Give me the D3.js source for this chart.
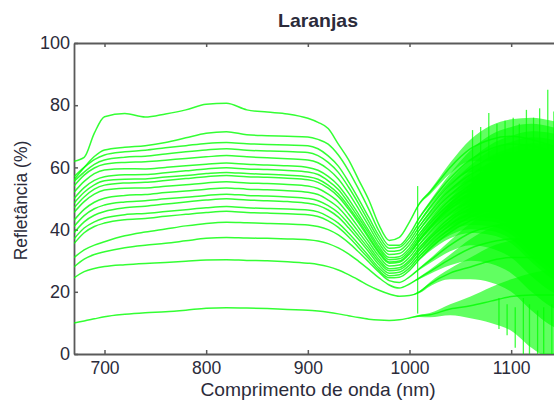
<!DOCTYPE html>
<html>
<head>
<meta charset="utf-8">
<script src="https://cdn.jsdelivr.net/npm/d3@7/dist/d3.min.js"></script>
<style>
  html, body { margin: 0; padding: 0; background: #fff; }
  svg { display: block; }
  text { font-family: "Liberation Sans", Arial, sans-serif; fill: #2b2b3a; }
</style>
</head>
<body>
<div id="chart"></div>
<script>
// ---------- data ----------
const title = "Laranjas";
const xLabel = "Comprimento de onda (nm)";
const yLabel = "Refletância (%)";
const xTicks = [700, 800, 900, 1000, 1100];
const yTicks = [0, 20, 40, 60, 80, 100];

const wavelengths = [670,680,690,700,720,740,760,780,800,820,840,860,880,900,910,920,930,940,950,960,970,980,990,1000,1010,1020,1040,1060,1080,1100,1120,1140,1150];

const line01 = [62,63.2,71,76.3,77.3,76.2,77.2,78.5,80.3,80.6,78.5,77.8,77.2,75.8,74.5,72.5,67.5,62.5,56,49.5,41.5,36.5,37.5,42.5,48.5,52,60,66,69,70,69,67,66];
const line02 = [56,60,63.5,65.6,66.5,67,68,69.5,71,71.5,70.5,70.2,70,69.8,69,67.5,64,59,53,46.5,39.5,35,35,38.5,44,48.5,56.5,62.5,66,67.5,67,65,64];
const line03 = [57,60,62.5,64,65,65.5,66.3,67,67.7,68,67.6,67.4,67.2,67,66,63.7,60.4,55.4,49.8,43.9,38,34,34.3,37.4,42.5,47,54.4,59.5,62.9,64.6,64.6,63,62];
const line04 = [55.5,58.5,61,62.4,63.3,63.6,64.3,65,65.6,66,65.5,65.3,65.1,64.8,63.8,61.6,58.4,53.7,48.3,42.5,36.8,33,33.3,36.3,41.2,45.5,52.8,57.7,61,62.7,62.7,61,60];
const line05 = [54,57.5,59.8,61,61.6,61.8,62.3,62.9,63.4,63.8,63.4,63.1,62.8,62.4,61.5,59.4,56.3,51.8,46.6,41.1,35.6,32,32.3,35.2,40,44.2,51.2,56,59.2,60.8,60.8,59.2,58.2];
const line06 = [52,55.5,58,59.2,59.6,59.5,60,60.5,61,61.4,61,60.8,60.5,60,59.1,57.1,54.2,49.9,44.9,39.7,34.5,31,31.3,34.1,38.8,42.8,49.6,54.3,57.4,58.9,58.9,57.4,56.4];
const line07 = [50,53.5,55.8,57,57.6,57.7,58.3,58.9,59.5,59.9,59.5,59.3,59,58.5,57.7,55.7,52.9,48.6,43.8,38.8,33.7,30.3,30.6,33.3,37.9,41.8,48.5,53,56.1,57.6,57.6,56.1,55.1];
const line08 = [48.5,52,54.4,55.7,56.2,56.3,56.9,57.4,58,58.4,58,57.8,57.5,57,56.2,54.3,51.5,47.4,42.8,37.8,32.9,29.6,29.9,32.6,37,40.8,47.4,51.8,54.8,56.2,56.2,54.8,53.9];
const line09 = [47,50.5,53,54.3,55,55.2,55.8,56.4,57,57.4,57,56.8,56.5,56,55.2,53.3,50.6,46.6,42.1,37.2,32.4,29.2,29.5,32.1,36.5,40.3,46.7,51.1,54,55.5,55.5,54,53.1];
const line10 = [45.5,49,51.4,52.7,53.3,53.4,53.9,54.4,55,55.4,55,54.8,54.5,54,53.2,51.4,48.9,45,40.6,36,31.4,28.3,28.6,31.1,35.4,39.1,45.3,49.5,52.4,53.8,53.8,52.4,51.5];
const line11 = [43,46.5,48.8,50.1,51,51.3,51.9,52.4,53,53.4,53,52.8,52.5,52,51.3,49.5,47.1,43.4,39.2,34.8,30.4,27.4,27.7,30.1,34.3,37.8,43.8,48,50.7,52.1,52.1,50.7,49.9];
const line12 = [41,44.5,46.7,47.9,48.9,49.3,49.9,50.4,51,51.4,51,50.8,50.5,50,49.3,47.7,45.4,41.9,37.9,33.8,29.6,26.8,27.1,29.5,33.5,37,42.9,46.9,49.6,50.9,50.9,49.6,48.8];
const line13 = [39,42.5,44.6,45.8,47,47.5,48.2,48.9,49.5,49.9,49.5,49.3,49,48.5,47.8,46.3,44,40.6,36.8,32.8,28.7,26,26.3,28.6,32.5,35.9,41.6,45.5,48.1,49.4,49.4,48.1,47.3];
const line14 = [37,40.5,42.5,43.7,44.8,45.2,45.8,46.4,47,47.4,47,46.8,46.6,46.3,45.7,44.2,42.1,38.9,35.3,31.5,27.7,25.2,25.5,27.7,31.5,34.8,40.3,44.1,46.6,47.9,47.9,46.6,45.9];
const line15 = [35.5,39,41,42.1,43.2,43.6,44.3,44.9,45.5,45.9,45.5,45.3,45.1,44.8,44.2,42.8,40.7,37.7,34.2,30.6,26.9,24.5,24.7,26.9,30.6,33.8,39.2,42.9,45.3,46.6,46.6,45.3,44.6];
const line16 = [31,33.5,35,36.1,38,39.2,40.2,41.2,42,42.4,42.2,42,41.8,41.5,41,40,38.3,35.8,32.8,29.6,26.3,23.6,23,24.8,27.5,30,35,39,41,42,42,41,40.5];
const line17 = [28,30.5,32,32.9,34.2,35,35.6,36.4,37.2,37.5,37.3,37.2,37,36.7,36.3,35.5,34.1,32.2,29.8,27.2,24.5,22.2,21.2,22.5,24.5,26.5,30.5,34,36,37,37,36,35.5];
const line18 = [24.5,26.5,27.5,28.1,28.7,29.1,29.4,29.8,30.2,30.3,30.1,30,29.7,29.2,28.8,28.1,27,25.5,23.8,22,20.5,19.3,18.6,18.8,20,22.5,26,28,30,31,31,30,29.5];
const line19 = [10,10.6,11.3,12,12.8,13.3,13.6,14.1,14.7,14.9,14.8,14.6,14.3,14.1,13.8,13.4,12.9,12.3,11.7,11.2,10.9,10.8,11,11.6,12.3,12.6,14.5,15.5,17,18.5,19,19,19];

// detector noise envelope (above / below each spectrum), per wavelength
const noiseUp   = [0,0,0,0,0,0,0,0,0,0,0,0,0,0,0,0,0,0,0,0,0,0,0,0,0.3,0.6,1.5,3,4.5,5.5,7,8,8];
const noiseDown = [0,0,0,0,0,0,0,0,0,0,0,0,0,0,0,0,0,0,0,0,0,0,0,0,0.4,0.8,2,4,7,11,17,21,22];

// isolated spikes: wavelength, low, high
const spikeWl = [1008,1062,1070,1078,1086,1094,1102,1108,1115,1122,1128,1136,1142,1088,1096,1104,1112,1118,1126,1132,1140];
const spikeLo = [13,55,58,62,60,62,60,62,62,62,62,62,60,8,6,2,0,0,0,0,0];
const spikeHi = [54,72,73,77.5,74,75,76,74,78.5,76,79,85,78,18,16,15,18,16,14,15,16];

const spectra = [line01,line02,line03,line04,line05,line06,line07,line08,line09,line10,line11,line12,line13,line14,line15,line16,line17,line18,line19];

// ---------- layout ----------
const W = 554, H = 401;
const plot = { left: 74, right: 562, top: 43, bottom: 354 };
const green = "#00ff00";
const axisColor = "#5a5a5a";

const svg = d3.select("#chart").append("svg").attr("width", W).attr("height", H);

const x = d3.scaleLinear().domain([670, 1150]).range([plot.left, plot.right]);
const y = d3.scaleLinear().domain([0, 100]).range([plot.bottom, plot.top]);

svg.append("clipPath").attr("id", "clip").append("rect")
  .attr("x", plot.left).attr("y", plot.top)
  .attr("width", plot.right - plot.left).attr("height", plot.bottom - plot.top);

// axes
const fmt = d3.format("d");
const axB = svg.append("g").attr("transform", `translate(0,${plot.bottom})`)
  .call(d3.axisBottom(x).tickValues(xTicks).tickFormat(fmt).tickSizeInner(-4).tickSizeOuter(0).tickPadding(8));
const axT = svg.append("g").attr("transform", `translate(0,${plot.top})`)
  .call(d3.axisTop(x).tickValues(xTicks).tickSizeInner(-4).tickSizeOuter(0).tickFormat(""));
const axL = svg.append("g").attr("transform", `translate(${plot.left},0)`)
  .call(d3.axisLeft(y).tickValues(yTicks).tickFormat(fmt).tickSizeInner(-4).tickSizeOuter(0).tickPadding(5));
[axB, axT, axL].forEach(g => {
  g.select(".domain").attr("stroke", axisColor).attr("stroke-width", 1.8);
  g.selectAll(".tick line").attr("stroke", axisColor).attr("stroke-width", 1.5);
});
axB.selectAll(".tick text").attr("font-size", 17.5).attr("fill", "#2b2b3a")
  .attr("font-family", "Liberation Sans, Arial, sans-serif");
axL.selectAll(".tick text").attr("font-size", 18).attr("fill", "#2b2b3a")
  .attr("font-family", "Liberation Sans, Arial, sans-serif").attr("dx", "1");

// data
const dataG = svg.append("g").attr("clip-path", "url(#clip)");

const band = d3.area()
  .x((d, i) => x(wavelengths[i]))
  .y0((d, i) => y(d - noiseDown[i]))
  .y1((d, i) => y(d + noiseUp[i]))
  .curve(d3.curveMonotoneX);

const line = d3.line()
  .x((d, i) => x(wavelengths[i]))
  .y(d => y(d))
  .curve(d3.curveMonotoneX);

dataG.selectAll("path.band").data(spectra).join("path")
  .attr("class", "band").attr("d", band)
  .attr("fill", green).attr("fill-opacity", 0.62).attr("stroke", "none");

dataG.selectAll("path.spec").data(spectra).join("path")
  .attr("class", "spec").attr("d", line)
  .attr("fill", "none").attr("stroke", green).attr("stroke-opacity", 0.8)
  .attr("stroke-width", 1.5);

dataG.selectAll("line.spike").data(spikeWl).join("line")
  .attr("class", "spike")
  .attr("x1", d => x(d)).attr("x2", d => x(d))
  .attr("y1", (d, i) => y(spikeLo[i])).attr("y2", (d, i) => y(spikeHi[i]))
  .attr("stroke", green).attr("stroke-opacity", 0.75).attr("stroke-width", 1.3);

// titles
const cx = (plot.left + plot.right) / 2;
svg.append("text").attr("transform", `translate(${cx},27) scale(1.08,1)`)
  .attr("text-anchor", "middle").attr("font-size", 18).attr("font-weight", "bold")
  .text(title);
svg.append("text").attr("transform", `translate(${cx},396) scale(1.1,1)`)
  .attr("text-anchor", "middle").attr("font-size", 17.5)
  .text(xLabel);
svg.append("text").attr("transform", `translate(27,${(plot.top + plot.bottom) / 2 + 2}) rotate(-90)`)
  .attr("text-anchor", "middle").attr("font-size", 17.5)
  .text(yLabel);
</script>
</body>
</html>
